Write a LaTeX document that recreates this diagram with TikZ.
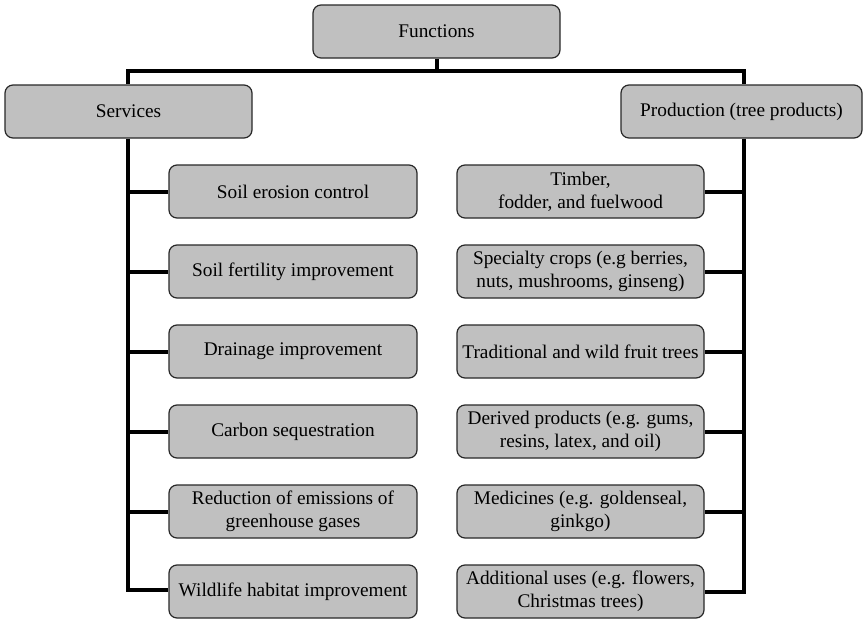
\documentclass[tikz,border=0pt]{standalone}
\usepackage{fontspec}
\setmainfont{Liberation Serif}
\usetikzlibrary{backgrounds}
\definecolor{boxgray}{RGB}{192,192,192}
\definecolor{boxline}{RGB}{40,40,40}
\tikzset{
  fbox/.style={draw=boxline, line width=1.2pt, fill=boxgray, rounded corners=8pt,
    minimum height=53pt, inner sep=0pt, align=center,
    font=\fontsize{19.3}{23.2}\selectfont},
  conn/.style={line width=4pt, draw=black}
}
\begin{document}
\begin{tikzpicture}[x=1pt,y=-1pt]
\useasboundingbox (0,0) rectangle (863,619);
\node[fbox, minimum width=247pt] (F) at (436.5,31.5) {Functions};
\node[fbox, minimum width=247pt] (S) at (128.5,111.5) {Services};
\node[fbox, minimum width=241pt] (P) at (741.5,111.5) {Production (tree products)};
% left column
\node[fbox, minimum width=248pt] (L1) at (293,191.5) {Soil erosion control};
\node[fbox, minimum width=248pt] (L2) at (293,271.5) {Soil fertility improvement};
\node[fbox, minimum width=248pt] (L3) at (293,351.5) {Drainage improvement};
\node[fbox, minimum width=248pt] (L4) at (293,431.5) {Carbon sequestration};
\node[fbox, minimum width=248pt] (L5) at (293,511.5) {Reduction of emissions of\\greenhouse gases};
\node[fbox, minimum width=248pt] (L6) at (293,591.5) {Wildlife habitat improvement};
% right column
\node[fbox, minimum width=247pt] (R1) at (580.5,191.5) {Timber,\\fodder, and fuelwood};
\node[fbox, minimum width=247pt] (R2) at (580.5,271.5) {Specialty crops (e.g berries,\\nuts, mushrooms, ginseng)};
\node[fbox, minimum width=247pt] (R3) at (580.5,351.5) {Traditional and wild fruit trees};
\node[fbox, minimum width=247pt] (R4) at (580.5,431.5) {Derived products (e.g. gums,\\resins, latex, and oil)};
\node[fbox, minimum width=247pt] (R5) at (580.5,511.5) {Medicines (e.g. goldenseal,\\ginkgo)};
\node[fbox, minimum width=247pt] (R6) at (580.5,591.5) {Additional uses (e.g. flowers,\\Christmas trees)};
\coordinate (hl) at (128,71);
\coordinate (hr) at (744,71);
\coordinate (hm) at (437,71);
\coordinate (lb) at (128,590);
\coordinate (rb) at (744,592);
\begin{scope}[on background layer]
\draw[conn] (F.south -| hm) -- (hm);
\draw[conn] (S.north -| hl) -- (hl) -- (hr) -- (P.north -| hr);
\draw[conn] (S.south -| hl) -- (lb) -- (lb -| L6.west);
\foreach \n in {L1,L2,L3,L4,L5} \draw[conn] (\n.west -| hl) -- (\n.west);
\draw[conn] (P.south -| hr) -- (rb) -- (rb -| R6.east);
\foreach \n in {R1,R2,R3,R4,R5} \draw[conn] (\n.east -| hr) -- (\n.east);
\end{scope}
\end{tikzpicture}
\end{document}
